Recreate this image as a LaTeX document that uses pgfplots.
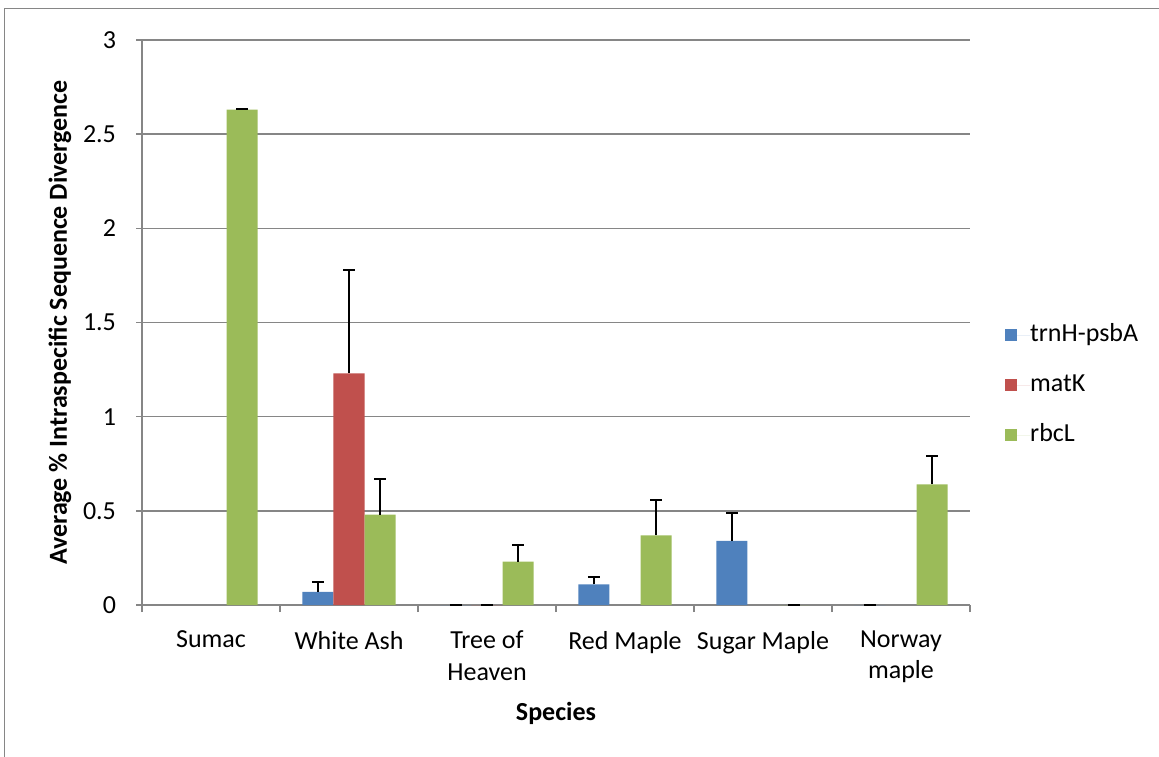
\documentclass[border=0pt]{standalone}
\usepackage{pgfplots}
\pgfplotsset{compat=1.18}
\usepackage{fontspec}
\setmainfont{Carlito}
\definecolor{cBlue}{RGB}{79,129,189}
\definecolor{cRed}{RGB}{192,80,77}
\definecolor{cGreen}{RGB}{155,187,89}
\definecolor{cGrid}{RGB}{134,134,134}
\newcommand{\lbl}{\fontsize{13pt}{15.6pt}\selectfont}
\begin{document}
\begin{tikzpicture}
\useasboundingbox (0,0) rectangle (579.5pt,378pt);
\begin{scope}
\clip (0,0) rectangle (579.5pt,378pt);
\draw[cGrid, line width=0.75pt] (2.25pt,-20pt) rectangle (600pt,373.75pt);
\end{scope}
\begin{axis}[
  at={(71pt,75.5pt)}, anchor=south west,
  scale only axis, width=414pt, height=282.5pt,
  ybar=0pt, bar width=0.225,
  xmin=-0.5, xmax=5.5, ymin=0, ymax=3,
  ytick={0,0.5,1,1.5,2,2.5,3},
  xtick={0,1,2,3,4,5},
  xticklabels={Sumac, White Ash, {Tree of\\Heaven}, Red Maple, Sugar Maple, {Norway\\maple}},
  minor xtick={-0.5,0.5,1.5,2.5,3.5,4.5,5.5},
  x tick style={draw=none},
  minor x tick style={draw=cGrid, line width=0.75pt},
  y tick style={draw=cGrid, line width=0.75pt},
  tick align=outside, major tick length=3pt, minor tick length=3.5pt,
  axis lines*=left,
  axis line style={cGrid, line width=0.75pt},
  ymajorgrids, grid style={cGrid, line width=0.75pt},
  tick label style={font=\lbl},
  /pgf/number format/assume math mode=true,
  xticklabel style={align=center, yshift=-6.5pt},
  yticklabel style={xshift=-6.5pt},
  xlabel={\bfseries Species},
  ylabel={\bfseries Average \% Intraspecific Sequence Divergence},
  label style={font=\lbl},
  xlabel style={at={(axis description cs:0.5,-0.191)}, anchor=center},
  ylabel style={at={(axis description cs:-0.099,0.5)}, anchor=center, rotate=0},
  clip=false,
  legend style={draw=none, fill=none, at={(1.042,0.389)}, anchor=west,
    font=\lbl, inner sep=0pt,
    nodes={inner sep=0pt, text height=9pt, text depth=3pt},
    row sep=13pt},
  legend cell align=left,
  error bars/y dir=plus, error bars/y explicit,
  error bars/error bar style={black, line width=1pt},
  error bars/error mark options={black, line width=1pt, mark size=3pt, rotate=90},
]
\addplot[fill=cBlue, draw=none, legend image code/.code={\fill[cBlue] (0pt,-3pt) rectangle (6pt,3pt); \path (0pt,0pt) -- (12.5pt,0pt);}]
  coordinates {(1,0.07) +- (0,0.05) (2,0) +- (0,0) (3,0.11) +- (0,0.04) (4,0.34) +- (0,0.15) (5,0) +- (0,0)};
\addplot[fill=cRed, draw=none, legend image code/.code={\fill[cRed] (0pt,-3pt) rectangle (6pt,3pt); \path (0pt,0pt) -- (12.5pt,0pt);}]
  coordinates {(1,1.23) +- (0,0.55) (2,0) +- (0,0)};
\addplot[fill=cGreen, draw=none, legend image code/.code={\fill[cGreen] (0pt,-3pt) rectangle (6pt,3pt); \path (0pt,0pt) -- (12.5pt,0pt);}]
  coordinates {(0,2.63) +- (0,0.003) (1,0.48) +- (0,0.19) (2,0.23) +- (0,0.09) (3,0.37) +- (0,0.19) (4,0) +- (0,0) (5,0.64) +- (0,0.15)};
\legend{trnH-psbA, matK, rbcL}
\end{axis}
\end{tikzpicture}
\end{document}
